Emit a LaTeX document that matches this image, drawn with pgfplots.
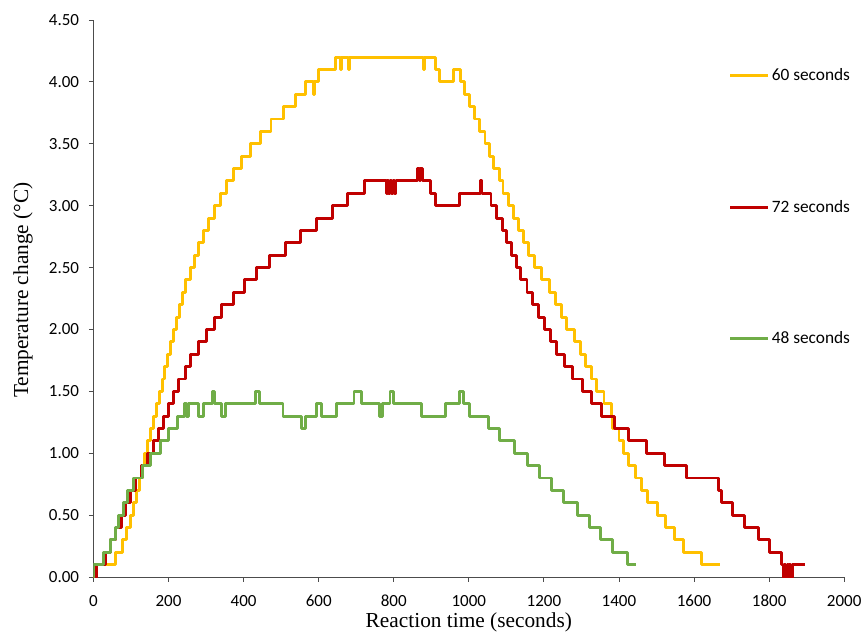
\documentclass[border=0pt]{standalone}
\usepackage{fontspec}
\setmainfont{Carlito}
\newfontfamily\tnr{Liberation Serif}
\usepackage{pgfplots}
\pgfplotsset{compat=1.18}
\definecolor{cYel}{HTML}{FFC000}
\definecolor{cRed}{HTML}{C00000}
\definecolor{cGrn}{HTML}{70AD47}

\begin{document}
\begin{tikzpicture}
\begin{axis}[
  scale only axis, width=563pt, height=417.75pt,
  xmin=0, xmax=2000, ymin=0, ymax=4.5,
  axis x line*=bottom, axis y line*=left,
  axis line style={black!70, line width=0.7pt},
  xtick={0,200,400,600,800,1000,1200,1400,1600,1800,2000},
  ytick={0,0.5,1,1.5,2,2.5,3,3.5,4,4.5},
  tick align=outside, major tick length=3.5pt,
  tick style={black!70, line width=0.7pt},
  /pgf/number format/assume math mode=true,
  tick label style={font=\fontsize{12.75}{14}\selectfont},
  xticklabel style={yshift=-6.5pt, /pgf/number format/1000 sep={}},
  yticklabel style={xshift=-3.75pt, /pgf/number format/.cd, fixed, fixed zerofill, precision=2},
  every axis x label/.style={at={(axis description cs:0.5,-0.0898)}, anchor=base},
  every axis y label/.style={at={(axis description cs:-0.094,0.515)}, anchor=center, rotate=90},
  label style={font=\tnr\fontsize{16}{18}\selectfont},
  xlabel={Reaction time (seconds)},
  ylabel={Temperature change (°C)},
  legend style={draw=none, fill=none, at={(axis description cs:0.846,0.9174)}, anchor=north west,
    font=\fontsize{13}{15}\selectfont, row sep=84pt, inner sep=0pt},
  legend cell align=left,
  legend image code/.code={\draw[#1] (0pt,0pt) -- (28pt,0pt);},
  every axis plot/.append style={line width=2.2pt, const plot, line join=round},
]
\addplot[cYel] coordinates {
(0,0) (5,0.1) (58,0.2) (77,0.3) (88,0.4) (98,0.5) (106,0.6) (114,0.7) (122,0.8) (130,0.9)
(137,1.0) (145,1.1) (153,1.2) (161,1.3) (169,1.4) (177,1.5) (184,1.6) (190,1.7) (197,1.8)
(205,1.9) (213,2.0) (221,2.1) (229,2.2) (237,2.3) (246,2.4) (258,2.5) (269,2.6) (280,2.7)
(293,2.8) (307,2.9) (322,3.0) (338,3.1) (354,3.2) (373,3.3) (394,3.4) (418,3.5) (444,3.6)
(473,3.7) (506,3.8) (537,3.9) (566,4.0) (587,3.9) (590,4.0) (600,4.1) (646,4.2) (659,4.1)
(662,4.2) (680,4.1) (683,4.2) (879,4.1) (882,4.2) (910,4.1) (921,4.0) (960,4.1) (978,4.0)
(989,3.9) (1003,3.8) (1016,3.7) (1029,3.6) (1043,3.5) (1056,3.4) (1066,3.3) (1081,3.2)
(1091,3.1) (1105,3.0) (1118,2.9) (1133,2.8) (1146,2.7) (1160,2.6) (1176,2.5) (1193,2.4)
(1214,2.3) (1230,2.2) (1247,2.1) (1261,2.0) (1282,1.9) (1297,1.8) (1311,1.7) (1326,1.6)
(1340,1.5) (1360,1.4) (1381,1.3) (1383,1.2) (1400,1.1) (1413,1.0) (1426,0.9) (1444,0.8)
(1459,0.7) (1477,0.6) (1503,0.5) (1524,0.4) (1548,0.3) (1572,0.2) (1619,0.1) (1669,0.1)
};
\addlegendentry{60 seconds}
\addplot[cRed] coordinates {
(0,0) (8,0.1) (32,0.2) (45,0.3) (60,0.4) (74,0.5) (85,0.6) (98,0.7) (112,0.8) (127,0.9)
(143,1.0) (159,1.1) (174,1.2) (187,1.3) (200,1.4) (214,1.5) (227,1.6) (245,1.7) (258,1.8)
(280,1.9) (301,2.0) (322,2.1) (342,2.2) (372,2.3) (402,2.4) (434,2.5) (469,2.6) (511,2.7)
(552,2.8) (595,2.9) (637,3.0) (676,3.1) (721,3.2) (780,3.1) (783,3.2) (787,3.1) (790,3.2)
(795,3.1) (798,3.2) (802,3.1) (806,3.2) (864,3.3) (868,3.2) (871,3.3) (876,3.2) (897,3.1)
(910,3.0) (976,3.1) (1031,3.2) (1035,3.1) (1059,3.0) (1074,2.9) (1089,2.8) (1100,2.7)
(1114,2.6) (1128,2.5) (1138,2.4) (1155,2.3) (1170,2.2) (1186,2.1) (1202,2.0) (1218,1.9)
(1234,1.8) (1255,1.7) (1277,1.6) (1302,1.5) (1326,1.4) (1354,1.3) (1388,1.2) (1426,1.1)
(1473,1.0) (1521,0.9) (1579,0.8) (1666,0.7) (1672,0.6) (1703,0.5) (1734,0.4) (1772,0.3)
(1802,0.2) (1834,0.1) (1837,0) (1841,0.1) (1844,0) (1848,0.1) (1851,0) (1855,0.1)
(1858,0) (1862,0.1) (1895,0.1)
};
\addlegendentry{72 seconds}
\addplot[cGrn] coordinates {
(0,0) (1,0.1) (27,0.2) (45,0.3) (59,0.4) (67,0.5) (79,0.6) (90,0.7) (107,0.8) (130,0.9)
(152,1.0) (178,1.1) (200,1.2) (224,1.3) (242,1.4) (248,1.3) (254,1.4) (280,1.3) (293,1.4)
(316,1.5) (322,1.4) (342,1.3) (351,1.4) (431,1.5) (442,1.4) (505,1.3) (555,1.2) (566,1.3)
(595,1.4) (608,1.3) (648,1.4) (694,1.5) (715,1.4) (761,1.3) (770,1.4) (790,1.5) (799,1.4)
(874,1.3) (939,1.4) (976,1.5) (987,1.4) (1003,1.3) (1053,1.2) (1081,1.1) (1122,1.0)
(1156,0.9) (1189,0.8) (1220,0.7) (1252,0.6) (1289,0.5) (1322,0.4) (1350,0.3) (1382,0.2)
(1423,0.1) (1446,0.1)
};
\addlegendentry{48 seconds}
\end{axis}
\pgfresetboundingbox
\path[use as bounding box] (-70.1pt,-40.5pt) rectangle (578.6pt,432.75pt);
\end{tikzpicture}
\end{document}
